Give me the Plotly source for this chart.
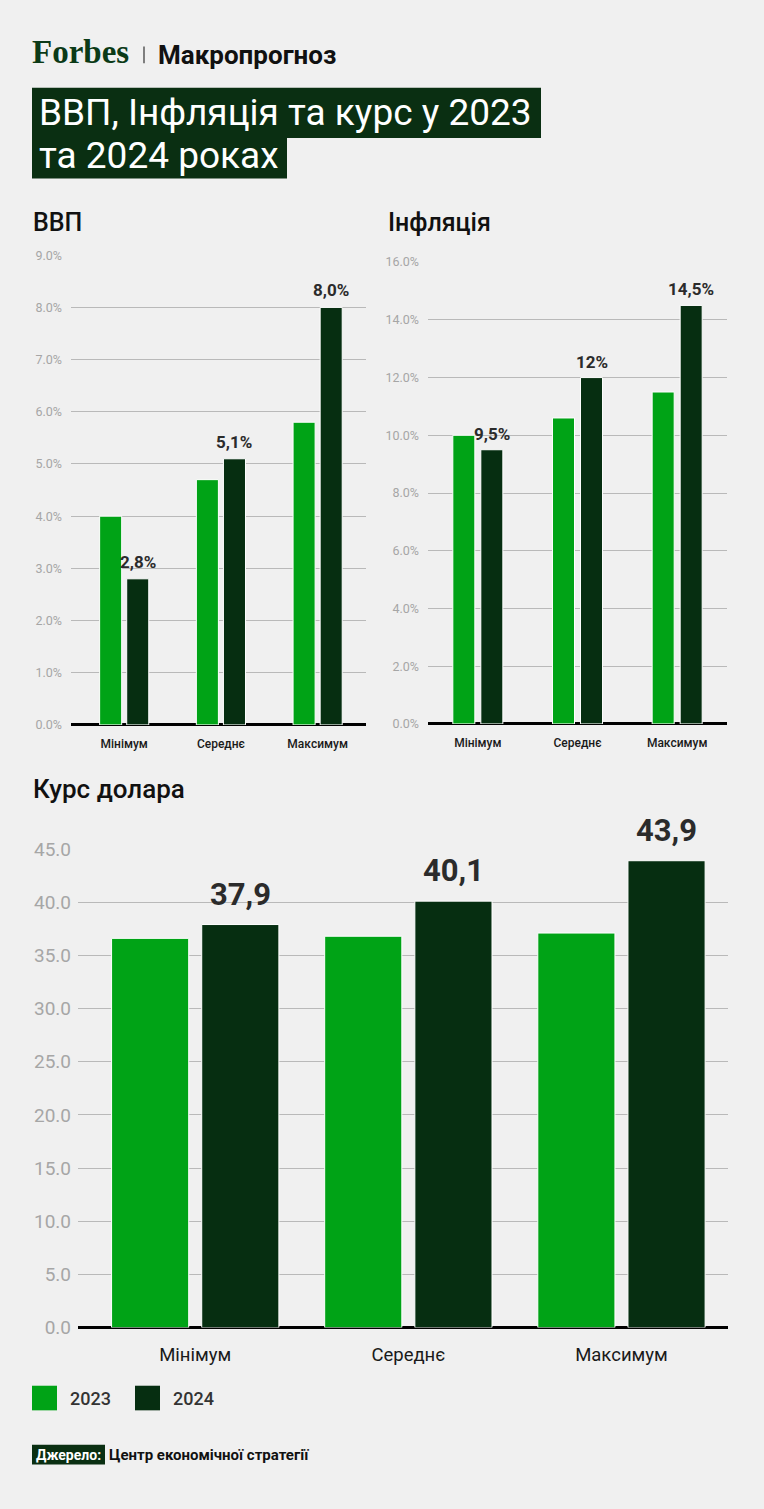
import plotly.graph_objects as go

W, H = 764, 1509
BG = "#f0f0f0"
C2023 = "#00a316"
C2024 = "#062e11"
DARK = "#0a2f12"
FONT = "Roboto"

# data
categories = ["Мінімум", "Середнє", "Максимум"]
years = ["2023", "2024"]

gdp_2023 = [4.0, 4.7, 5.8]
gdp_2024 = [2.8, 5.1, 8.0]
gdp_labels = ["2,8%", "5,1%", "8,0%"]

infl_2023 = [10.0, 10.6, 11.5]
infl_2024 = [9.5, 12.0, 14.5]
infl_labels = ["9,5%", "12%", "14,5%"]

usd_2023 = [36.6, 36.8, 37.1]
usd_2024 = [37.9, 40.1, 43.9]
usd_labels = ["37,9", "40,1", "43,9"]


def fx(x):
    return x / W


def fy(y):
    return 1 - y / H


panels = [
    dict(n="", box=(71, 248, 366, 725), yr=[0, 9], dtick=1, suffix="%",
         xr=[-0.55, 2.5], width=0.228, offs=(-0.254, 0.026),
         y23=gdp_2023, y24=gdp_2024, labels=gdp_labels,
         tick=12.5, cat=12, val=17, gap=5, cat_standoff=10, y_standoff=8),
    dict(n="2", box=(428, 255, 727, 724), yr=[0, 16], dtick=2, suffix="%",
         xr=[-0.5, 2.5], width=0.221, offs=(-0.251, 0.030),
         y23=infl_2023, y24=infl_2024, labels=infl_labels,
         tick=12.5, cat=12, val=17, gap=4, cat_standoff=10, y_standoff=8),
    dict(n="3", box=(78, 851, 728, 1337), yr=[0, 45], dtick=5, suffix="",
         xr=[-0.55, 2.5], width=0.362, offs=(-0.3925, 0.0306),
         y23=usd_2023, y24=usd_2024, labels=usd_labels,
         tick=19, cat=18.5, val=31, gap=10, cat_standoff=14, y_standoff=6),
]

fig = go.Figure()
annotations = []
shapes = []

for p in panels:
    xa, ya = "x" + p["n"], "y" + p["n"]
    for vals, color, off in [(p["y23"], C2023, p["offs"][0]),
                             (p["y24"], C2024, p["offs"][1])]:
        fig.add_trace(go.Bar(
            x=categories, y=vals, xaxis=xa, yaxis=ya,
            width=p["width"], offset=off,
            marker=dict(color=color, line=dict(color="#ffffff", width=1)),
            showlegend=False, hoverinfo="x+y",
        ))
    # value labels above the 2024 bars
    for i, (v, lab) in enumerate(zip(p["y24"], p["labels"])):
        annotations.append(dict(
            x=i + p["offs"][1] + p["width"] / 2, y=v, xref=xa, yref=ya,
            text=lab, showarrow=False, yanchor="bottom", yshift=p["gap"],
            font=dict(family=FONT, size=p["val"], color="#2b2b2b", weight=700),
        ))
    x0, y0, x1, y1 = p["box"]
    fig.layout["xaxis" + p["n"]] = dict(
        domain=[fx(x0), fx(x1)], anchor=ya, type="category",
        categoryorder="array", categoryarray=categories,
        range=p["xr"], showgrid=False, showline=False, ticks="",
        ticklabelstandoff=p["cat_standoff"], fixedrange=True,
        tickfont=dict(family=FONT, size=p["cat"], color="#1a1a1a",
                      weight=500 if p["n"] != "3" else 400),
    )
    fig.layout["yaxis" + p["n"]] = dict(
        domain=[fy(y1), fy(y0)], anchor=xa, range=p["yr"], dtick=p["dtick"],
        tickformat=".1f", ticksuffix=p["suffix"], showgrid=True,
        gridcolor="#b9b9b9", gridwidth=1.4, zeroline=True,
        zerolinecolor="#000000", zerolinewidth=2.6, showline=False,
        ticks="", ticklabelstandoff=p["y_standoff"], fixedrange=True,
        tickfont=dict(family=FONT, size=p["tick"], color="#a6a6a6"),
    )


def text(x, y, s, size, color="#111111", weight=400, family=FONT, anchor="left"):
    annotations.append(dict(
        x=fx(x), y=fy(y), xref="paper", yref="paper", text=s,
        showarrow=False, xanchor=anchor, yanchor="middle",
        font=dict(family=family, size=size, color=color, weight=weight),
    ))


def rect(x0, y0, x1, y1, color):
    shapes.append(dict(
        type="rect", xref="paper", yref="paper",
        x0=fx(x0), x1=fx(x1), y0=fy(y1), y1=fy(y0),
        fillcolor=color, line=dict(width=0), layer="below",
    ))


# header
text(30, 42, "Forbes", 33, color="#0b3a17", weight=700,
     family="Liberation Serif")
shapes.append(dict(type="line", xref="paper", yref="paper",
                   x0=fx(144), x1=fx(144), y0=fy(36), y1=fy(53),
                   line=dict(color="#333333", width=1.2)))
text(156, 45, "Макропрогноз", 26, weight=700)

rect(32, 78, 541, 129, DARK)
rect(32, 128, 287, 170, DARK)
text(37, 103, "ВВП, Інфляція та курс у 2023", 37, color="#ffffff")
text(37, 147, "та 2024 роках", 37, color="#ffffff")

# panel headings
text(31, 215, "ВВП", 25, weight=500)
text(386, 215, "Інфляція", 25, weight=500)
text(31, 790, "Курс долара", 26, weight=500)

# legend
for x0, color, year in [(32, C2023, years[0]), (135, C2024, years[1])]:
    rect(x0, 1396, x0 + 25, 1421, color)
    text(x0 + 36, 1409, year, 18, color="#333333", weight=500)

# source line
rect(32, 1456, 105, 1476, DARK)
text(34, 1466, "Джерело:", 14, color="#ffffff", weight=700)
text(107, 1466, "Центр економічної стратегії", 15, weight=700)

fig.update_layout(
    width=W, height=H, margin=dict(l=0, r=0, t=0, b=0),
    paper_bgcolor=BG, plot_bgcolor=BG, barmode="overlay",
    annotations=annotations, shapes=shapes, showlegend=False,
    font=dict(family=FONT),
)

# pin the chart to the top-left corner of the page, no body margin
page_js = (
    "document.documentElement.style.margin='0';"
    "document.documentElement.style.overflow='hidden';"
    "document.body.style.margin='0';"
    "document.body.style.overflow='hidden';"
    "document.body.style.background='%s';"
    "var gd=document.getElementById('{plot_id}');"
    "gd.style.position='fixed';gd.style.top='0';gd.style.left='0';" % BG
)

fig.write_html("out.html", config={"displayModeBar": False},
               post_script=page_js)
